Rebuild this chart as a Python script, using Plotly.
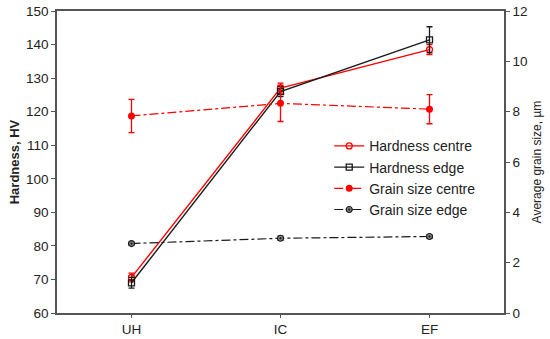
import plotly.graph_objects as go

categories = ["UH", "IC", "EF"]
hard_centre = [70.6, 127.0, 138.5]
hard_centre_err = [1.3, 1.5, 1.5]
hard_edge = [69.0, 126.0, 141.4]
hard_edge_err = [1.6, 1.5, 3.9]
grain_centre = [7.83, 8.33, 8.10]
grain_centre_err = [0.66, 0.72, 0.58]
grain_edge = [2.76, 2.97, 3.04]
grain_edge_err = [0.06, 0.09, 0.08]

RED = "#ff0000"
BLK = "#1a1a1a"
x = [0, 1, 2]

fig = go.Figure()
fig.add_trace(go.Scatter(
    x=x, y=hard_centre, name="Hardness centre", mode="lines+markers",
    line=dict(color=RED, width=1.4),
    marker=dict(symbol="circle-open", size=6, color=RED, line=dict(width=1.3)),
    error_y=dict(type="data", array=hard_centre_err, color=RED, width=3, thickness=1.3),
))
fig.add_trace(go.Scatter(
    x=x, y=hard_edge, name="Hardness edge", mode="lines+markers",
    line=dict(color=BLK, width=1.4),
    marker=dict(symbol="square-open", size=6, color=BLK, line=dict(width=1.3)),
    error_y=dict(type="data", array=hard_edge_err, color=BLK, width=3, thickness=1.3),
))
fig.add_trace(go.Scatter(
    x=x, y=grain_centre, name="Grain size centre", mode="lines+markers", yaxis="y2",
    line=dict(color=RED, width=1.2, dash="dashdot"),
    marker=dict(symbol="circle", size=7, color=RED),
    error_y=dict(type="data", array=grain_centre_err, color=RED, width=3, thickness=1.3),
))
fig.add_trace(go.Scatter(
    x=x, y=grain_edge, name="Grain size edge", mode="lines+markers", yaxis="y2",
    line=dict(color=BLK, width=1.2, dash="dashdot"),
    marker=dict(symbol="circle-dot", size=6, color="#888888", line=dict(color=BLK, width=1.2)),
    error_y=dict(type="data", array=grain_edge_err, color=BLK, width=3, thickness=1.2),
))

font = dict(family="Liberation Sans, Arial, sans-serif", size=13.5, color="#222222")
fig.update_layout(
    width=550, height=339,
    margin=dict(l=57, r=46, t=11, b=26, autoexpand=False),
    paper_bgcolor="white", plot_bgcolor="white",
    font=font,
    showlegend=True,
    legend=dict(x=0.609, y=0.605, xanchor="left", yanchor="top",
                bgcolor="rgba(0,0,0,0)", font=dict(size=14),
                tracegroupgap=0),
    xaxis=dict(range=[-0.5, 2.5], tickmode="array", tickvals=x, ticktext=categories,
               showgrid=False, zeroline=False, showline=True, linecolor="#555555", linewidth=1.5,
               mirror=True, ticks="outside", ticklen=3, tickcolor="#555555", automargin=False),
    yaxis=dict(range=[60, 150], dtick=10, showgrid=False, zeroline=False,
               showline=True, linecolor="#555555", linewidth=1.5, automargin=False,
               ticks="outside", ticklen=4, tickcolor="#555555", ticklabeloverflow="allow",
               title=dict(text="<b>Hardness, HV</b>", font=dict(size=13), standoff=3)),
    yaxis2=dict(range=[0, 12], dtick=2, overlaying="y", side="right", showgrid=False,
                zeroline=False, showline=True, linecolor="#555555", linewidth=1.5, automargin=False,
                ticks="outside", ticklen=4, tickcolor="#555555", ticklabeloverflow="allow",
                title=dict(text="Average grain size, µm", font=dict(size=12), standoff=6)),
)
# remove the page's default body margin so the 550x339 figure fills the window exactly
fig.write_html("out.html", config={"displayModeBar": False},
               post_script="document.body.style.margin='0';document.body.style.overflow='hidden';")
